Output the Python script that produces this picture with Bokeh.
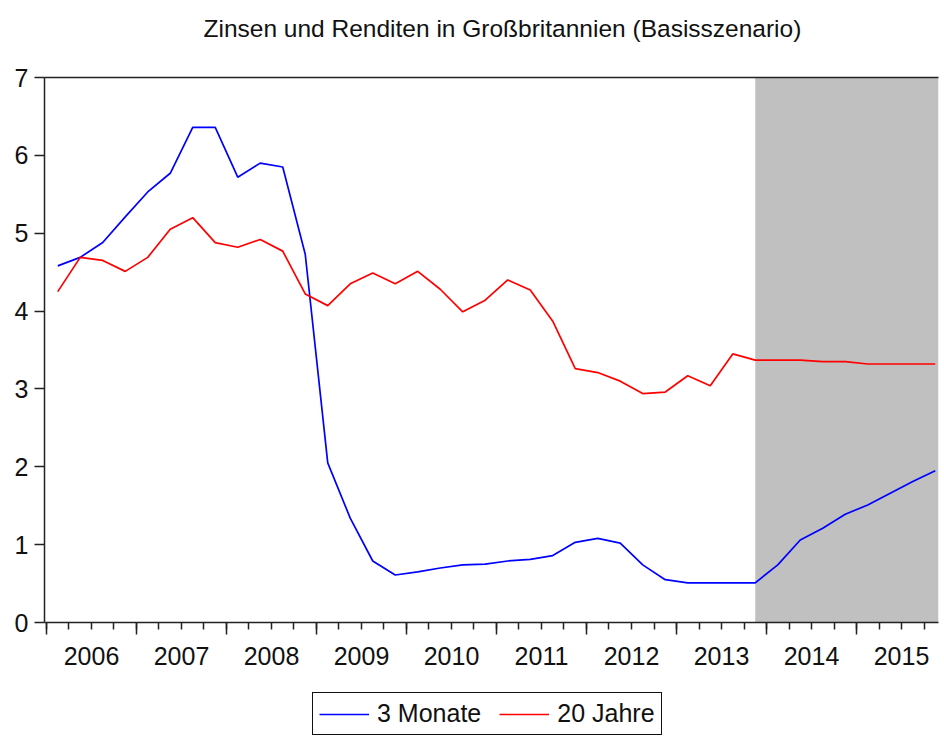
from bokeh.plotting import figure
from bokeh.layouts import column
from bokeh.models import (Range1d, FixedTicker, LinearAxis, BoxAnnotation, Legend,
                          LegendItem, Label)
from bokeh.embed import file_html
from bokeh.resources import INLINE

title_text = "Zinsen und Renditen in Großbritannien (Basisszenario)"
start_year = 2006
year_labels = ["2006", "2007", "2008", "2009", "2010", "2011", "2012", "2013", "2014", "2015"]
series_names = ["3 Monate", "20 Jahre"]
series_colors = ["#0000FF", "#FF0000"]
forecast_start_index = 31  # 2013Q4
y_ticks = [0, 1, 2, 3, 4, 5, 6, 7]

rate_3m = [4.58, 4.69, 4.88, 5.21, 5.53, 5.77, 6.36, 6.36, 5.72, 5.90, 5.85, 4.73,
           2.05, 1.34, 0.79, 0.61, 0.65, 0.70, 0.74, 0.75, 0.79, 0.81, 0.86, 1.03,
           1.08, 1.02, 0.74, 0.55, 0.51, 0.51, 0.51, 0.51, 0.74, 1.06, 1.21, 1.39,
           1.51, 1.66, 1.81, 1.95]
rate_20y = [4.25, 4.69, 4.65, 4.51, 4.69, 5.05, 5.20, 4.88, 4.82, 4.92, 4.77, 4.22,
            4.07, 4.35, 4.49, 4.35, 4.51, 4.28, 3.99, 4.14, 4.40, 4.27, 3.87, 3.26,
            3.21, 3.10, 2.94, 2.96, 3.17, 3.04, 3.45, 3.37, 3.37, 3.37, 3.35, 3.35,
            3.32, 3.32, 3.32, 3.32]

# quarter midpoints in fractional years
x = [start_year + (i + 0.5) / 4 for i in range(len(rate_3m))]
n_years = len(year_labels)
FONT = "Liberation Sans"
TXT = "#111111"
AX = "#222222"


def strip(h):
    f = figure(width=944, height=h, output_backend="svg", toolbar_location=None,
               x_axis_type=None, y_axis_type=None, min_border=0,
               x_range=Range1d(0, 1), y_range=Range1d(0, 1))
    f.grid.visible = False
    f.outline_line_color = None
    f.background_fill_color = "white"
    f.border_fill_color = "white"
    return f


# title strip
tf = strip(46)
tf.add_layout(Label(x=159, y=18, x_units="screen", y_units="screen", text=title_text,
                    text_font=FONT, text_font_size="24.5px", text_color=TXT,
                    text_align="left", text_baseline="middle"), "center")

# main chart
p = figure(width=944, height=644, output_backend="svg", toolbar_location=None,
           x_range=Range1d(start_year - 0.022, start_year + 9.911),
           y_range=Range1d(0, 7),
           min_border_left=44, min_border_right=6, min_border_top=31,
           min_border_bottom=68)

p.grid.visible = False
p.outline_line_color = None
p.background_fill_color = "white"
p.border_fill_color = "white"

# forecast shading
p.add_layout(BoxAnnotation(left=x[forecast_start_index], fill_color="#C0C0C0",
                           fill_alpha=1.0, line_color=None, level="underlay"))

r1 = p.line(x, rate_3m, line_color=series_colors[0], line_width=1.7)
r2 = p.line(x, rate_20y, line_color=series_colors[1], line_width=1.7)

# y axis
yax = p.yaxis[0]
yax.ticker = FixedTicker(ticks=y_ticks)
yax.major_tick_out = 10
yax.major_tick_in = 0
yax.minor_tick_out = 0
yax.minor_tick_in = 0
yax.major_label_standoff = 6
yax.major_label_text_font = FONT
yax.major_label_text_font_size = "25px"
yax.major_label_text_color = TXT
yax.axis_line_color = AX
yax.axis_line_width = 1.5
yax.major_tick_line_color = AX
yax.major_tick_line_width = 1.5

# x axis: tick marks at year / quarter boundaries
bounds = [start_year + k for k in range(n_years + 1)]
qbounds = [start_year + k / 4 for k in range(n_years * 4 + 1)]
xax = p.xaxis[0]
xax.ticker = FixedTicker(ticks=bounds, minor_ticks=qbounds)
xax.major_tick_out = 12
xax.major_tick_in = 0
xax.minor_tick_out = 7
xax.minor_tick_in = 0
xax.major_label_overrides = {b: "" for b in bounds}
xax.major_label_text_font_size = "1px"
xax.major_label_standoff = 0
xax.axis_line_color = AX
xax.axis_line_width = 1.5
xax.major_tick_line_color = AX
xax.major_tick_line_width = 1.5
xax.minor_tick_line_color = AX
xax.minor_tick_line_width = 1.5

# x axis: year labels centred in each year
mids = [start_year + k + 0.5 for k in range(n_years)]
lab_ax = LinearAxis(ticker=FixedTicker(ticks=mids, minor_ticks=[]),
                    major_label_overrides={m: lab for m, lab in zip(mids, year_labels)})
lab_ax.axis_line_color = None
lab_ax.major_tick_line_color = None
lab_ax.minor_tick_line_color = None
lab_ax.major_tick_out = 0
lab_ax.major_tick_in = 0
lab_ax.major_label_standoff = 12
lab_ax.major_label_text_font = FONT
lab_ax.major_label_text_font_size = "25px"
lab_ax.major_label_text_color = TXT
p.add_layout(lab_ax, "below")

# top frame line
top_ax = LinearAxis(ticker=FixedTicker(ticks=[]), major_tick_out=0, major_tick_in=0,
                    minor_tick_out=0, minor_tick_in=0, axis_line_color=AX,
                    axis_line_width=1.5, major_label_standoff=0)
top_ax.major_label_text_font_size = "1px"
p.add_layout(top_ax, "above")

# legend strip below the chart (its ranges keep the key lines themselves out of view)
lg = strip(48)
k1 = lg.line(x, rate_3m, line_color=series_colors[0], line_width=1.7)
k2 = lg.line(x, rate_20y, line_color=series_colors[1], line_width=1.7)

legend = Legend(items=[LegendItem(label=series_names[0], renderers=[k1]),
                       LegendItem(label=series_names[1], renderers=[k2])],
                orientation="horizontal", location=(268, 3))
legend.label_text_font = FONT
legend.label_text_font_size = "25px"
legend.label_text_color = TXT
legend.glyph_width = 50
legend.label_standoff = 8
legend.spacing = 18
legend.padding = 6
legend.margin = 0
legend.border_line_color = "#111111"
legend.border_line_alpha = 1.0
legend.border_line_width = 1.5
legend.background_fill_alpha = 1.0
lg.add_layout(legend, "center")

layout = column(tf, p, lg, spacing=0)
open("out.html", "w").write(file_html(layout, INLINE))
